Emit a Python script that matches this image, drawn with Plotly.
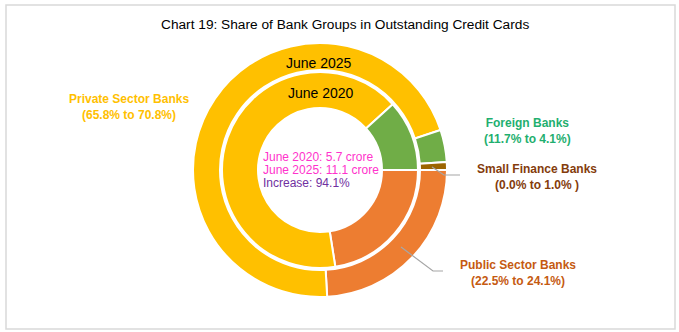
import plotly.graph_objects as go

# ---- data ----
groups = ["Public Sector Banks", "Private Sector Banks", "Foreign Banks", "Small Finance Banks"]
share_2020 = [22.5, 65.8, 11.7, 0.0]
share_2025 = [24.1, 70.8, 4.1, 1.0]
colors = ["#ED7D31", "#FFC000", "#70AD47", "#9C6500"]
label_colors = ["#C55A11", "#FFC000", "#1FAF6F", "#843C0C"]
cards_2020 = 5.7
cards_2025 = 11.1
increase = 94.1

W, H = 679, 332


def px(x):
    return x / W


def py(y):
    return 1 - y / H


cx, cy = 320, 170
R_out, R_out_in = 127, 100
R_in, R_in_in = 98, 62

fig = go.Figure()
fig.add_trace(go.Pie(
    labels=groups, values=share_2025, sort=False, direction="clockwise", rotation=90,
    hole=R_out_in / R_out, textinfo="none", hoverinfo="label+value",
    marker=dict(colors=colors, line=dict(color="white", width=2)),
    domain=dict(x=[px(cx - R_out), px(cx + R_out)], y=[py(cy + R_out), py(cy - R_out)]),
    showlegend=False,
))
fig.add_trace(go.Pie(
    labels=groups, values=share_2020, sort=False, direction="clockwise", rotation=90,
    hole=R_in_in / R_in, textinfo="none", hoverinfo="label+value",
    marker=dict(colors=colors, line=dict(color="white", width=2)),
    domain=dict(x=[px(cx - R_in), px(cx + R_in)], y=[py(cy + R_in), py(cy - R_in)]),
    showlegend=False,
))

font = "Liberation Sans, Arial, sans-serif"
ann = []
ann.append(dict(x=px(345), y=py(24), text="Chart 19: Share of Bank Groups in Outstanding Credit Cards",
                font=dict(family=font, size=13.7, color="#000000")))
ann.append(dict(x=px(319), y=py(63), text="June 2025", font=dict(family=font, size=14, color="#000000")))
ann.append(dict(x=px(321), y=py(93), text="June 2020", font=dict(family=font, size=14, color="#000000")))
center_lines = [
    (f"June 2020: {cards_2020} crore", "#FF33CC", 157),
    (f"June 2025: {cards_2025} crore", "#FF33CC", 170),
    (f"Increase: {increase}%", "#7030A0", 183),
]
for t, c, yy in center_lines:
    ann.append(dict(x=px(261), y=py(yy), xanchor="left", text=t, font=dict(family=font, size=12, color=c)))

label_pos = {
    "Private Sector Banks": (129, 107),
    "Foreign Banks": (527, 131),
    "Small Finance Banks": (537, 177),
    "Public Sector Banks": (518, 273),
}
for i, g in enumerate(groups):
    x, y = label_pos[g]
    extra = " " if g == "Small Finance Banks" else ""
    ann.append(dict(x=px(x), y=py(y),
                    text=f"<b>{g}<br>({share_2020[i]:.1f}% to {share_2025[i]:.1f}%{extra})</b>",
                    font=dict(family=font, size=12, color=label_colors[i])))
for a in ann:
    a.update(xref="paper", yref="paper", showarrow=False)
    a.setdefault("xanchor", "center")
    a.setdefault("yanchor", "middle")

shapes = [
    dict(type="rect", xref="paper", yref="paper", x0=px(6), x1=px(675), y0=py(329), y1=py(5),
         line=dict(color="#D9D9D9", width=1.5)),
]
leaders = [
    [(432, 167), (444, 175), (460, 175)],
    [(401, 247), (433, 271), (443, 271)],
]
for pts in leaders:
    path = "M " + " L ".join(f"{px(x)},{py(y)}" for x, y in pts)
    shapes.append(dict(type="path", xref="paper", yref="paper", path=path,
                       line=dict(color="#A6A6A6", width=1.2)))

fig.update_layout(
    width=W, height=H, margin=dict(l=0, r=0, t=0, b=0),
    paper_bgcolor="white", plot_bgcolor="white",
    annotations=ann, shapes=shapes,
)
fig.write_html("out.html")
